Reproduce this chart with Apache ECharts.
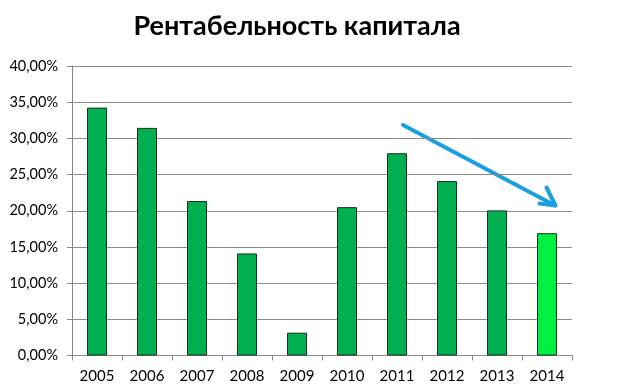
<!DOCTYPE html>
<html><head><meta charset="utf-8">
<script src="https://cdn.jsdelivr.net/npm/echarts@6/dist/echarts.min.js"></script>
<style>html,body{margin:0;padding:0;background:#fff}#c{width:620px;height:388px}</style>
</head><body><div id="c"></div>
<script>
const years = ['2005','2006','2007','2008','2009','2010','2011','2012','2013','2014'];
const roe = [34.25, 31.45, 21.35, 14.1, 3.15, 20.5, 27.95, 24.1, 20.05, 16.9];
const barColors = ['#00B050','#00B050','#00B050','#00B050','#00B050','#00B050','#00B050','#00B050','#00B050','#00F040'];
const yTicks = { min: 0, max: 40, interval: 5 };
const title = 'Рентабельность капитала';

const chart = echarts.init(document.getElementById('c'));
const font = 'Lato, "Open Sans", sans-serif';
chart.setOption({
  animation: false,
  title: { text: title, left: 292, top: 8, textAlign: 'center',
    textStyle: { fontFamily: font, fontWeight: 'bold', fontSize: 27, color: '#000' } },
  grid: { left: 72, right: 48, top: 66, bottom: 32.5, containLabel: false },
  xAxis: { type: 'category', data: years,
    axisLine: { lineStyle: { color: '#888', width: 1 } },
    axisTick: { show: true, alignWithLabel: false, length: 5, lineStyle: { color: '#888' } },
    axisLabel: { fontFamily: font, fontSize: 15, color: '#000', margin: 13 } },
  yAxis: { type: 'value', min: yTicks.min, max: yTicks.max, interval: yTicks.interval,
    axisLine: { show: true, lineStyle: { color: '#888' } },
    axisTick: { show: true, length: 5, lineStyle: { color: '#888' } },
    splitLine: { lineStyle: { color: '#8c8c8c', width: 1 } },
    axisLabel: { fontFamily: font, fontSize: 14.5, color: '#000', margin: 14,
      formatter: v => v.toFixed(2).replace('.', ',') + '%' } },
  series: [{ type: 'bar', barWidth: 20,
    data: roe.map((v, i) => ({ value: v, itemStyle: { color: barColors[i] } })),
    itemStyle: { borderColor: '#17331a', borderWidth: 1 } }],
  graphic: [
    { type: 'line', shape: { x1: 403, y1: 125, x2: 555, y2: 205.5 },
      style: { stroke: '#1A9FE0', lineWidth: 4, lineCap: 'round' } },
    { type: 'polyline', shape: { points: [[546.5, 187.5], [555.5, 205.5], [539.5, 203.5]] },
      style: { stroke: '#1A9FE0', lineWidth: 4, fill: null, lineCap: 'round', lineJoin: 'round' } }
  ]
});
</script></body></html>
